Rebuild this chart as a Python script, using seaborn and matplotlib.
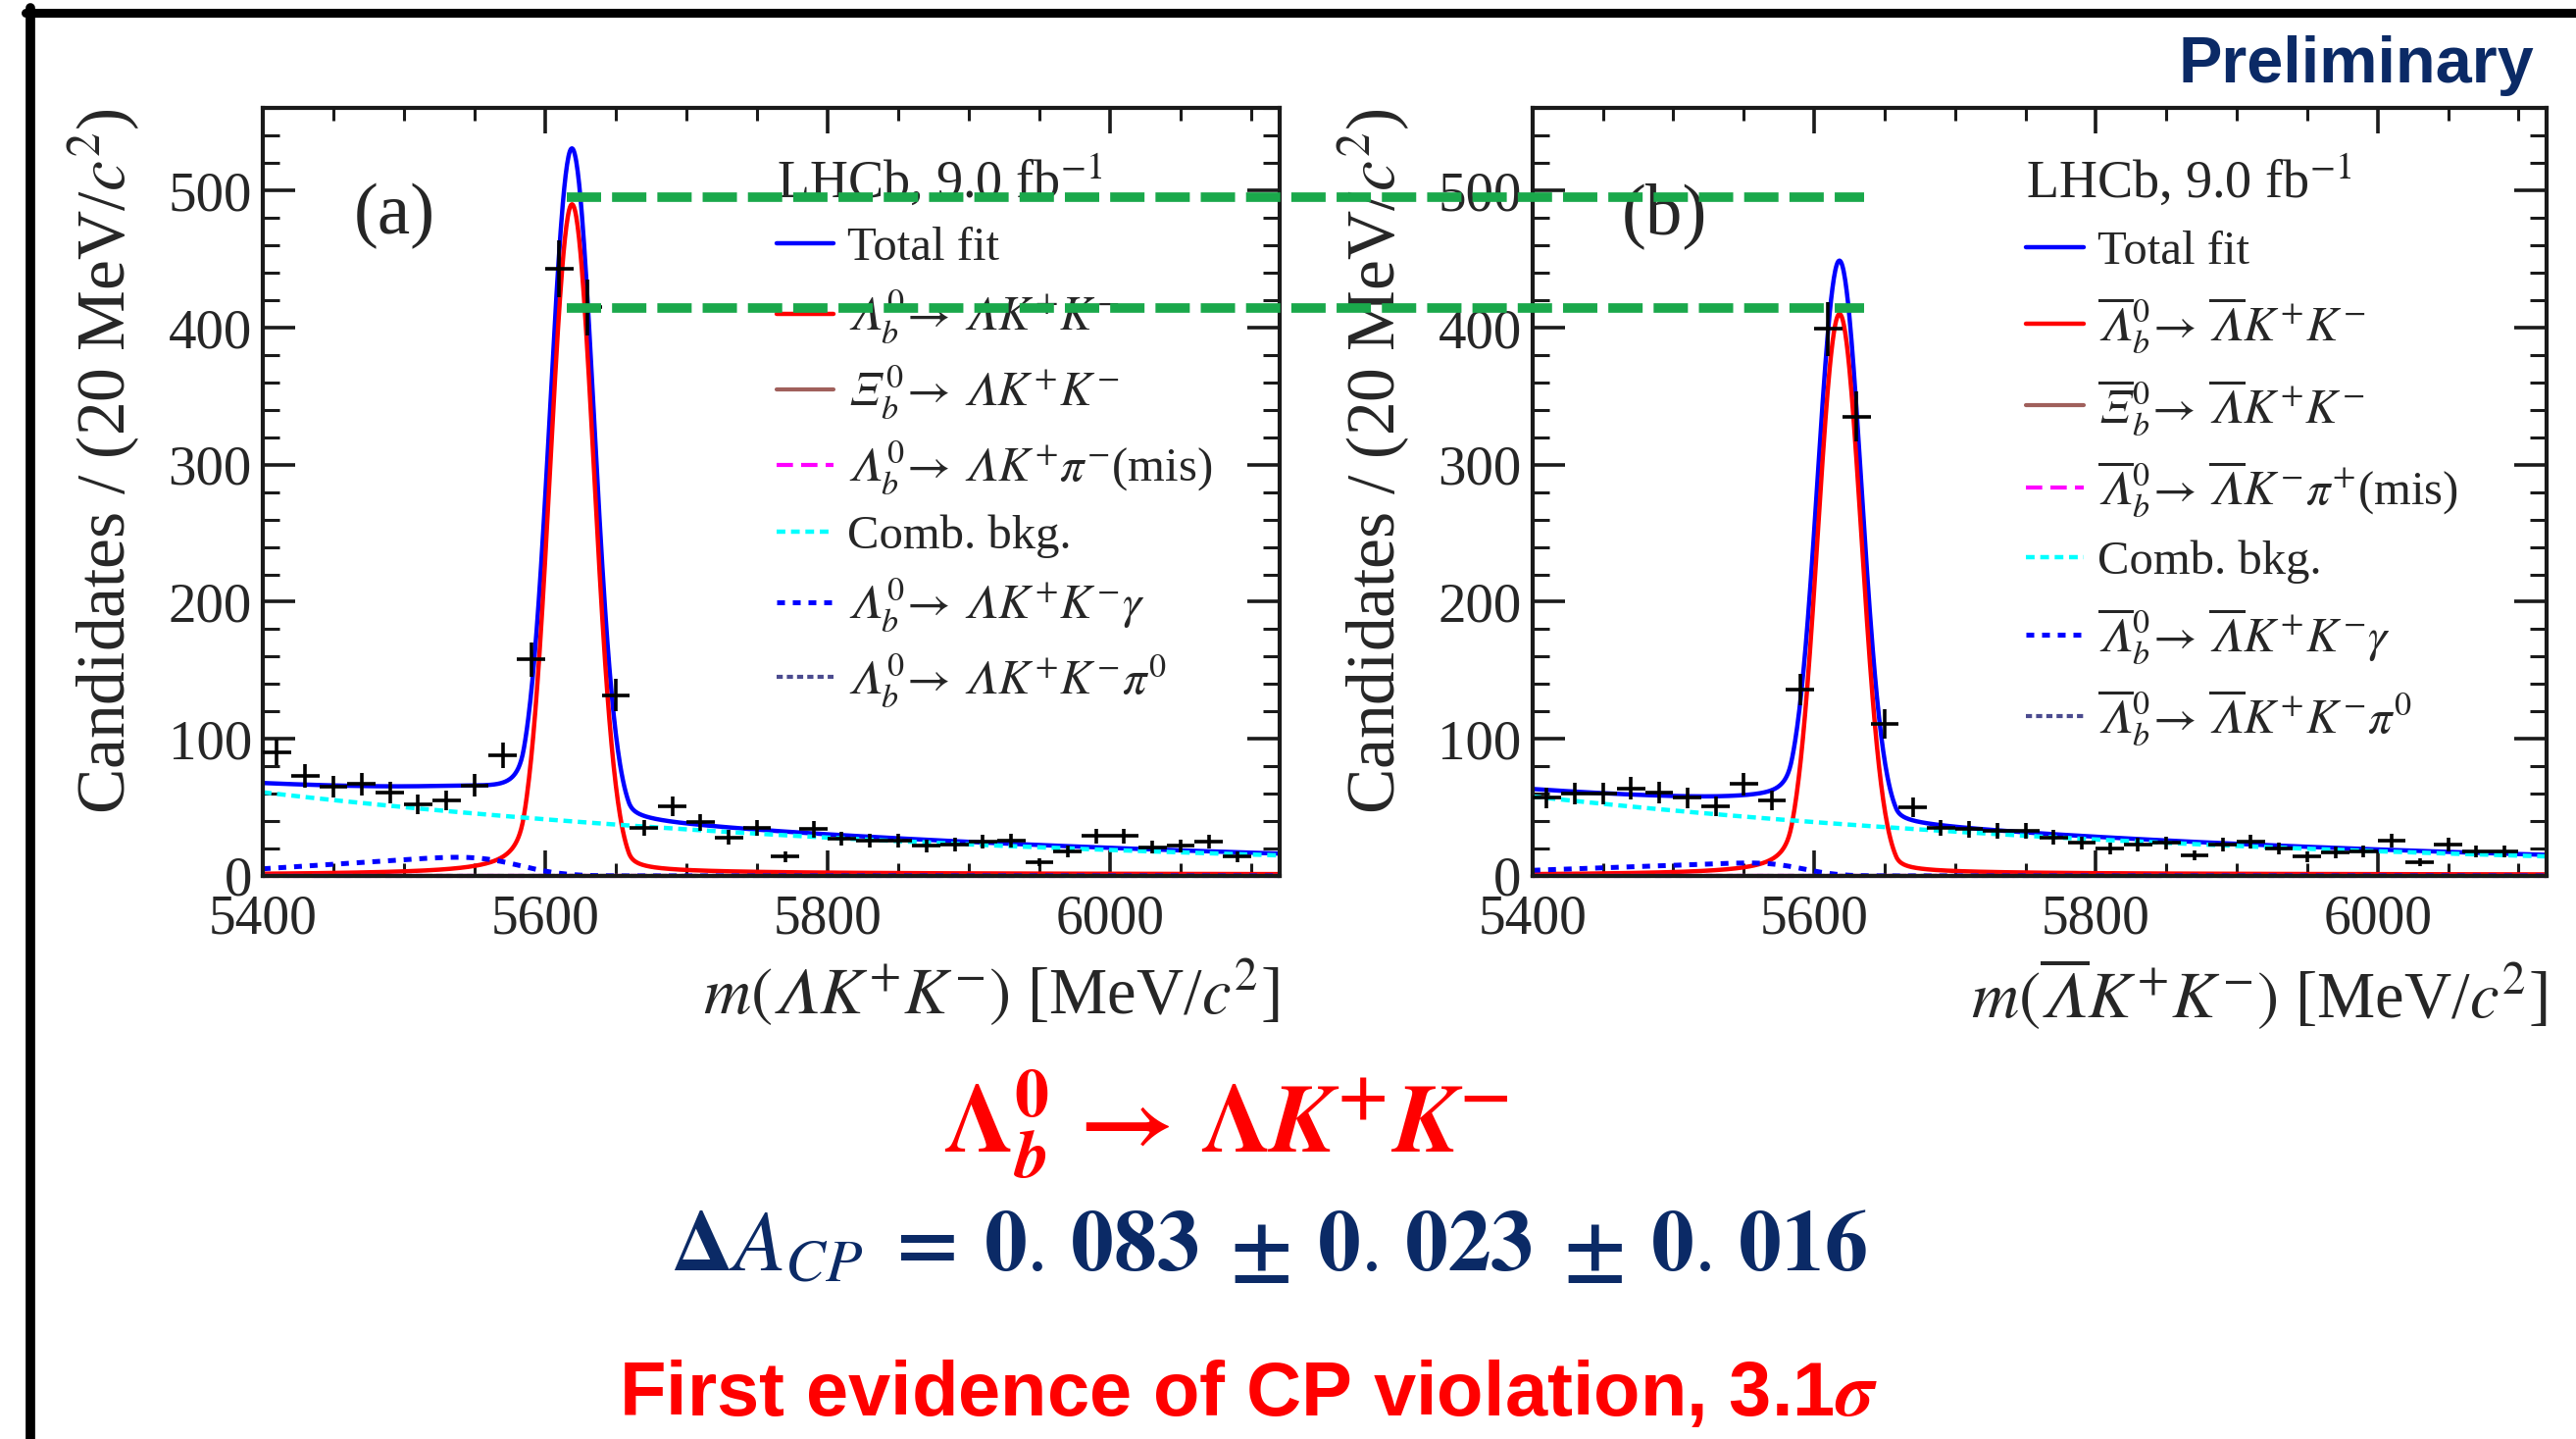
import numpy as np
import pandas as pd
import matplotlib
matplotlib.use("Agg")
import matplotlib.pyplot as plt
import seaborn as sns
from matplotlib.lines import Line2D
from matplotlib.ticker import MultipleLocator
from math import erfc

# ---------------------------------------------------------------- data
# 20 MeV/c^2 bin centres
mass_bins = [5410, 5430, 5450, 5470, 5490, 5510, 5530, 5550, 5570, 5590,
             5610, 5630, 5650, 5670, 5690, 5710, 5730, 5750, 5770, 5790,
             5810, 5830, 5850, 5870, 5890, 5910, 5930, 5950, 5970, 5990,
             6010, 6030, 6050, 6070, 6090]

# candidates per bin, Lambda_b0 sample (a) and anti-Lambda_b0 sample (b)
counts_a = [90, 73, 65, 67, 61, 52, 55, 66, 88, 158,
            443, 415, 132, 35, 51, 39, 28, 35, 14, 34,
            27, 26, 26, 22, 23, 25, 26, 10, 18, 29,
            29, 21, 22, 25, 14]
counts_b = [57, 60, 60, 64, 61, 57, 51, 67, 55, 136,
            399, 335, 111, 50, 35, 34, 33, 33, 28, 24,
            20, 23, 24, 15, 23, 25, 20, 14, 17, 18,
            26, 10, 23, 18, 18]

# fit model parameters  [panel a, panel b]
signal_peak = [490.0, 410.0]
signal_mean = [5619.0, 5618.0]
signal_sigma = 15.5
tail_left = (2.2, 1.0)     # (alpha, n)
tail_right = (2.6, 0.5)
comb_at_5400 = [61.0, 58.0]
comb_slope = [0.00195, 0.00195]
gamma_amp = [5.2, 4.1]
gamma_rise = [0.0128, 0.009]
gamma_edge = [5578.0, 5590.0]
gamma_width = [25.0, 20.0]

# peak-height guide lines across both panels
guide_levels = [495.0, 414.0]
guide_span = [5615.5, 6534.0]

x_range = (5400, 6120)
y_range = (0, 560)

# ---------------------------------------------------------------- style
sns.set_theme(style="ticks")
plt.rcParams.update({
    "font.family": ["Liberation Serif", "DejaVu Serif"],
    "mathtext.fontset": "stix",
    "axes.edgecolor": "#1a1a1a",
    "axes.linewidth": 3.0,
    "axes.facecolor": "white",
    "figure.facecolor": "white",
})

LAM = "\U0001D6EC"
XI = "\U0001D6EF"

C_TOTAL = "#0000ff"
C_SIG = "#ff0000"
C_XIB = "#a0605c"
C_MIS = "#ff00ff"
C_COMB = "#00ffff"
C_GAM = "#0000ff"
C_PI0 = "#4b4b8f"
NAVY = "#0b2a66"
GREEN = "#1aa84b"


def signal_shape(m, peak, mean):
    t = (np.asarray(m) - mean) / signal_sigma
    out = np.exp(-0.5 * t ** 2)
    aL, nL = tail_left
    aR, nR = tail_right
    left = t < -aL
    right = t > aR
    out[left] = np.exp(-0.5 * aL ** 2) * ((nL / aL) / (nL / aL - aL - t[left])) ** nL
    out[right] = np.exp(-0.5 * aR ** 2) * ((nR / aR) / (nR / aR - aR + t[right])) ** nR
    return peak * out


def comb_shape(m, c0, slope):
    return c0 * np.exp(-slope * (np.asarray(m) - 5400.0))


def gamma_shape(m, amp, rise, edge, width):
    m = np.asarray(m)
    cut = np.array([0.5 * erfc((v - edge) / (np.sqrt(2) * width)) for v in m])
    return amp * (1 + rise * (m - 5400.0)) * cut


m_grid = np.linspace(x_range[0], x_range[1], 1441)

fig = plt.figure(figsize=(26.27, 14.67), dpi=100)
ax_a = fig.add_axes([0.1020, 0.3913, 0.3947, 0.5334])
ax_b = fig.add_axes([0.5949, 0.3913, 0.3937, 0.5334])

labels_a = [
    "Total fit",
    r"$@_b^0\!\rightarrow\,@K^{+}K^{-}$".replace("@", LAM),
    r"$#_b^0\!\rightarrow\,@K^{+}K^{-}$".replace("@", LAM).replace("#", XI),
    r"$@_b^0\!\rightarrow\,@K^{+}\pi^{-}$(mis)".replace("@", LAM),
    "Comb. bkg.",
    r"$@_b^0\!\rightarrow\,@K^{+}K^{-}\gamma$".replace("@", LAM),
    r"$@_b^0\!\rightarrow\,@K^{+}K^{-}\pi^{0}$".replace("@", LAM),
]
labels_b = [
    "Total fit",
    r"$\overline{@}_b^0\!\rightarrow\,\overline{@}K^{+}K^{-}$".replace("@", LAM),
    r"$\overline{#}_b^0\!\rightarrow\,\overline{@}K^{+}K^{-}$".replace("@", LAM).replace("#", XI),
    r"$\overline{@}_b^0\!\rightarrow\,\overline{@}K^{-}\pi^{+}$(mis)".replace("@", LAM),
    "Comb. bkg.",
    r"$\overline{@}_b^0\!\rightarrow\,\overline{@}K^{+}K^{-}\gamma$".replace("@", LAM),
    r"$\overline{@}_b^0\!\rightarrow\,\overline{@}K^{+}K^{-}\pi^{0}$".replace("@", LAM),
]
xlabels = [r"$m(@K^{+}K^{-})$ [MeV/$c^{2}$]".replace("@", LAM),
           r"$m(\overline{@}K^{+}K^{-})$ [MeV/$c^{2}$]".replace("@", LAM)]


def draw_panel(ax, i, counts, labels, tag, xlabel, legend_anchor, spacing):
    sig = signal_shape(m_grid, signal_peak[i], signal_mean[i])
    comb = comb_shape(m_grid, comb_at_5400[i], comb_slope[i])
    gam = gamma_shape(m_grid, gamma_amp[i], gamma_rise[i], gamma_edge[i], gamma_width[i])
    zero = np.zeros_like(m_grid)
    total = sig + comb + gam
    df = pd.DataFrame({"m": m_grid, "total": total, "sig": sig, "comb": comb,
                       "gam": gam, "zero": zero})

    styles = [
        ("total", C_TOTAL, "-", 3.2),
        ("sig", C_SIG, "-", 3.2),
        ("zero", C_XIB, "-", 3.0),
        ("zero", C_MIS, (0, (4, 2)), 3.0),
        ("comb", C_COMB, (0, (2, 1.3)), 3.2),
        ("gam", C_GAM, (0, (1.6, 1.6)), 3.6),
        ("zero", C_PI0, (0, (1.5, 1.0)), 3.0),
    ]
    handles = []
    for col, color, ls, lw in styles:
        n_before = len(ax.lines)
        sns.lineplot(data=df, x="m", y=col, ax=ax, color=color, linestyle=ls,
                     lw=lw, legend=False, clip_on=False if col == "zero" else True)
        handles.append(ax.lines[n_before])

    counts = np.asarray(counts, dtype=float)
    ax.errorbar(mass_bins, counts, yerr=np.sqrt(counts), xerr=10, fmt="none",
                ecolor="black", elinewidth=2.6, capsize=0, zorder=6)

    ax.set_xlim(*x_range)
    ax.set_ylim(*y_range)
    ax.xaxis.set_major_locator(MultipleLocator(200))
    ax.xaxis.set_minor_locator(MultipleLocator(50))
    ax.yaxis.set_major_locator(MultipleLocator(100))
    ax.yaxis.set_minor_locator(MultipleLocator(20))
    ax.tick_params(which="both", direction="in", top=True, right=True,
                   color="#1a1a1a")
    ax.tick_params(axis="x", which="major", length=19, width=2.6, pad=13,
                   labelsize=40)
    ax.tick_params(axis="x", which="minor", length=9.5, width=2.2)
    ax.tick_params(axis="y", which="major", length=24, width=2.6, pad=8,
                   labelsize=41)
    ax.tick_params(axis="y", which="minor", length=12, width=2.2)

    ax.set_ylabel("Candidates / (20 MeV/$c^{2}$)", fontsize=50, loc="top")
    ax.yaxis.set_label_coords(-0.119, 1.0)
    ax.set_xlabel(xlabel, fontsize=48, loc="right")
    ax.xaxis.set_label_coords(1.0, -0.105)

    ax.text(0.130, 0.860, tag, transform=ax.transAxes, fontsize=54,
            ha="center", va="center")

    leg = ax.legend(handles, labels, loc="upper left", bbox_to_anchor=legend_anchor,
                    frameon=False, fontsize=35, handlelength=1.2,
                    handletextpad=0.3, labelspacing=spacing, borderpad=0,
                    borderaxespad=0, title=r"LHCb, 9.0 fb$^{-1}$",
                    title_fontsize=39, alignment="left")
    leg.set_zorder(8)
    return ax


draw_panel(ax_a, 0, counts_a, labels_a, "(a)", xlabels[0], (0.505, 0.942), 0.38)
draw_panel(ax_b, 1, counts_b, labels_b, "(b)", xlabels[1], (0.487, 0.942), 0.45)

# guide lines marking the two peak heights, drawn over both panels
for lvl in guide_levels:
    fig.add_artist(Line2D(guide_span, [lvl, lvl], transform=ax_a.transData,
                          color=GREEN, lw=7, dashes=(3.6, 1.15), zorder=10))

# slide frame
fig.add_artist(Line2D([31 / 2627, 31 / 2627], [0, 1 - 8 / 1467],
                      transform=fig.transFigure, color="black", lw=7))
fig.add_artist(Line2D([26 / 2627, 1], [1 - 12.5 / 1467, 1 - 12.5 / 1467],
                      transform=fig.transFigure, color="black", lw=6.5))

fig.text(0.9837, 0.954, "Preliminary", ha="right", va="center", fontsize=48,
         fontweight="bold", color=NAVY, family="Liberation Sans")

fig.text(0.476, 0.219,
         r"$\mathbf{\Lambda}_{\boldsymbol{b}}^{\mathbf{0}}\,\mathbf{\rightarrow}\,"
         r"\mathbf{\Lambda}\boldsymbol{K}^{\mathbf{+}}\boldsymbol{K}^{\mathbf{-}}$",
         ha="center", va="center", fontsize=72, color="#ff0000")
fig.text(0.4925, 0.131,
         r"$\boldsymbol{\Delta A_{CP} \;=\; 0.\,083 \;\pm\; 0.\,023 \;\pm\; 0.\,016}$",
         ha="center", va="center", fontsize=63, color=NAVY)
fig.text(0.4846, 0.030, r"First evidence of CP violation, 3.1$\boldsymbol{\sigma}$",
         ha="center", va="center", fontsize=56, fontweight="bold",
         color="#ff0000", family="Liberation Sans")

fig.savefig("out.png", dpi=100, facecolor="white")
